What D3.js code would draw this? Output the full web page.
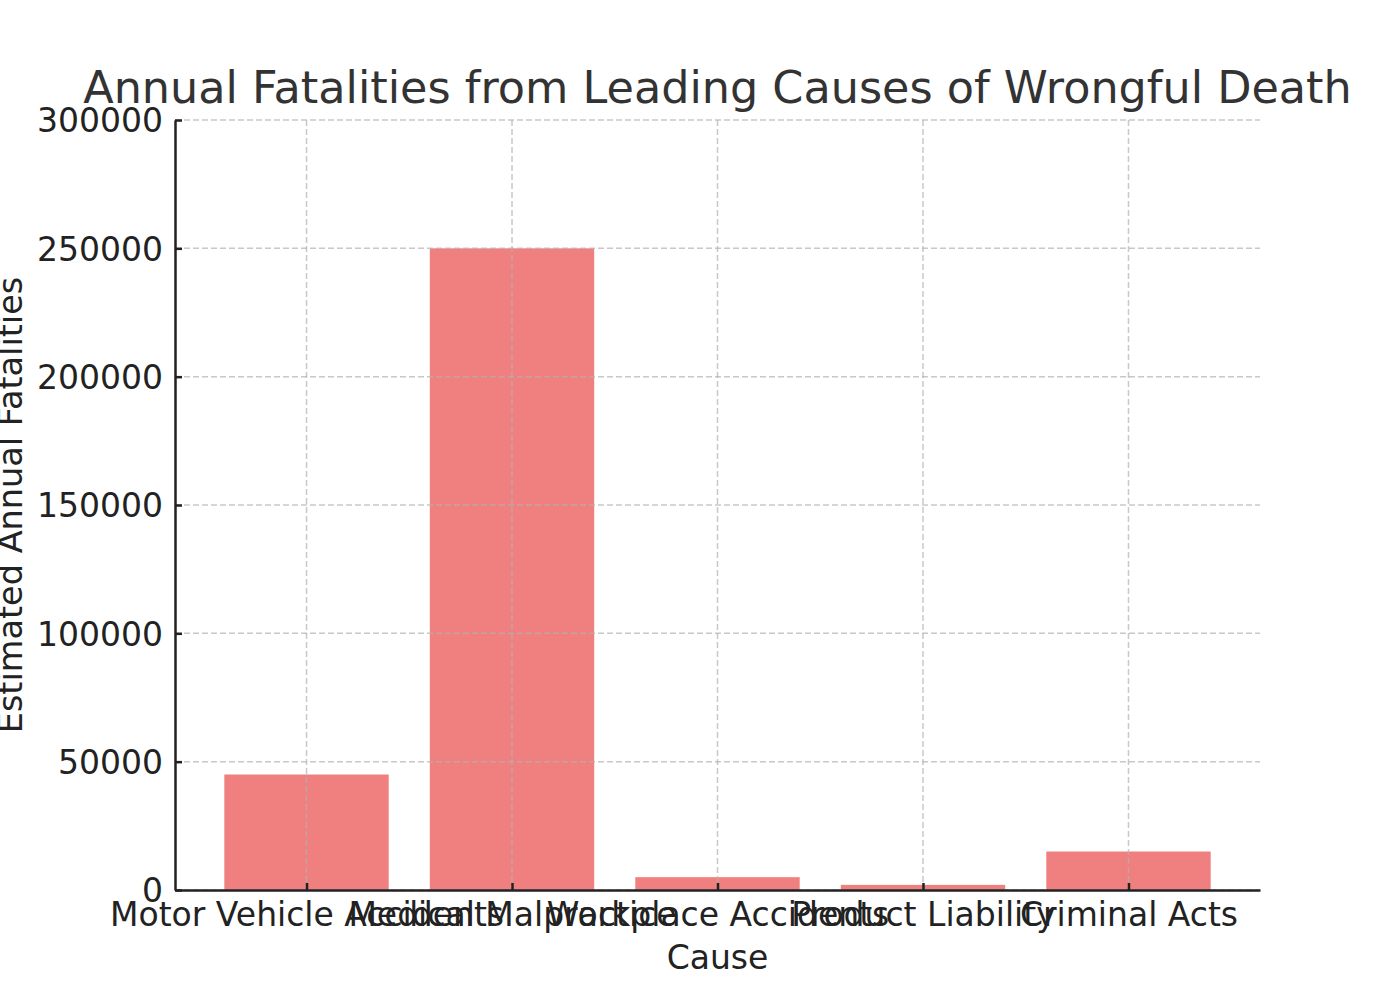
<!DOCTYPE html>
<html>
<head>
<meta charset="utf-8">
<script src="https://cdn.jsdelivr.net/npm/d3@7"></script>
<style>
  body { margin: 0; background: #fff; }
  text { font-family: "DejaVu Sans", sans-serif; }
</style>
</head>
<body>
<svg id="chart" width="1400" height="1000"></svg>
<script>
const causes = ["Motor Vehicle Accidents", "Medical Malpractice", "Workplace Accidents", "Product Liability", "Criminal Acts"];
const fatalities = [45000, 250000, 5000, 2000, 15000];
const yTicks = [0, 50000, 100000, 150000, 200000, 250000, 300000];

const plotLeft = 175, plotRight = 1260, plotTop = 120, plotBottom = 890;

const svg = d3.select("#chart");

const x = d3.scaleLinear()
  .domain([-0.64, causes.length - 1 + 0.64])
  .range([plotLeft, plotRight]);

const y = d3.scaleLinear()
  .domain([0, 300000])
  .range([plotBottom, plotTop]);

// bars
svg.append("g")
  .selectAll("rect")
  .data(fatalities)
  .join("rect")
  .attr("x", (d, i) => x(i - 0.4))
  .attr("width", (d, i) => x(i + 0.4) - x(i - 0.4))
  .attr("y", d => y(d))
  .attr("height", d => y(0) - y(d))
  .style("fill", "#f08080");

// grid
const grid = svg.append("g")
  .attr("stroke", "#b0b0b0")
  .attr("stroke-opacity", 0.7)
  .attr("stroke-width", 1.5)
  .attr("stroke-dasharray", "6,3");

grid.selectAll(".hgrid")
  .data(yTicks)
  .join("line")
  .attr("x1", plotLeft).attr("x2", plotRight)
  .attr("y1", d => y(d)).attr("y2", d => y(d));

grid.selectAll(".vgrid")
  .data(causes)
  .join("line")
  .attr("x1", (d, i) => x(i)).attr("x2", (d, i) => x(i))
  .attr("y1", plotTop).attr("y2", plotBottom);

// axes
const xAxis = d3.axisBottom(x)
  .tickValues(d3.range(causes.length))
  .tickFormat(i => causes[i])
  .tickSizeInner(-7)
  .tickSizeOuter(0)
  .tickPadding(13);

const yAxis = d3.axisLeft(y)
  .tickValues(yTicks)
  .tickFormat(d3.format("d"))
  .tickSizeInner(-7)
  .tickSizeOuter(0)
  .tickPadding(12);

const gx = svg.append("g")
  .attr("transform", `translate(0,${plotBottom})`)
  .call(xAxis);

const gy = svg.append("g")
  .attr("transform", `translate(${plotLeft},0)`)
  .call(yAxis);

[gx, gy].forEach(g => {
  g.select(".domain").attr("stroke", "#222").attr("stroke-width", 2.5);
  g.selectAll(".tick line").attr("stroke", "#222").attr("stroke-width", 2.5);
  g.selectAll(".tick text")
    .attr("fill", "#222")
    .style("font-size", "33px")
    .style("font-family", "DejaVu Sans");
});
gx.selectAll(".tick text").attr("dy", "0.71em");
gy.selectAll(".tick text").attr("dy", "0.36em");

// title and labels
svg.append("text")
  .attr("x", (plotLeft + plotRight) / 2)
  .attr("y", 103)
  .attr("text-anchor", "middle")
  .attr("fill", "#333")
  .style("font-size", "44.5px")
  .text("Annual Fatalities from Leading Causes of Wrongful Death");

svg.append("text")
  .attr("x", (plotLeft + plotRight) / 2)
  .attr("y", 969)
  .attr("text-anchor", "middle")
  .attr("fill", "#222")
  .style("font-size", "33px")
  .text("Cause");

svg.append("text")
  .attr("transform", `translate(22,${(plotTop + plotBottom) / 2}) rotate(-90)`)
  .attr("text-anchor", "middle")
  .attr("fill", "#222")
  .style("font-size", "33.5px")
  .text("Estimated Annual Fatalities");
</script>
</body>
</html>
